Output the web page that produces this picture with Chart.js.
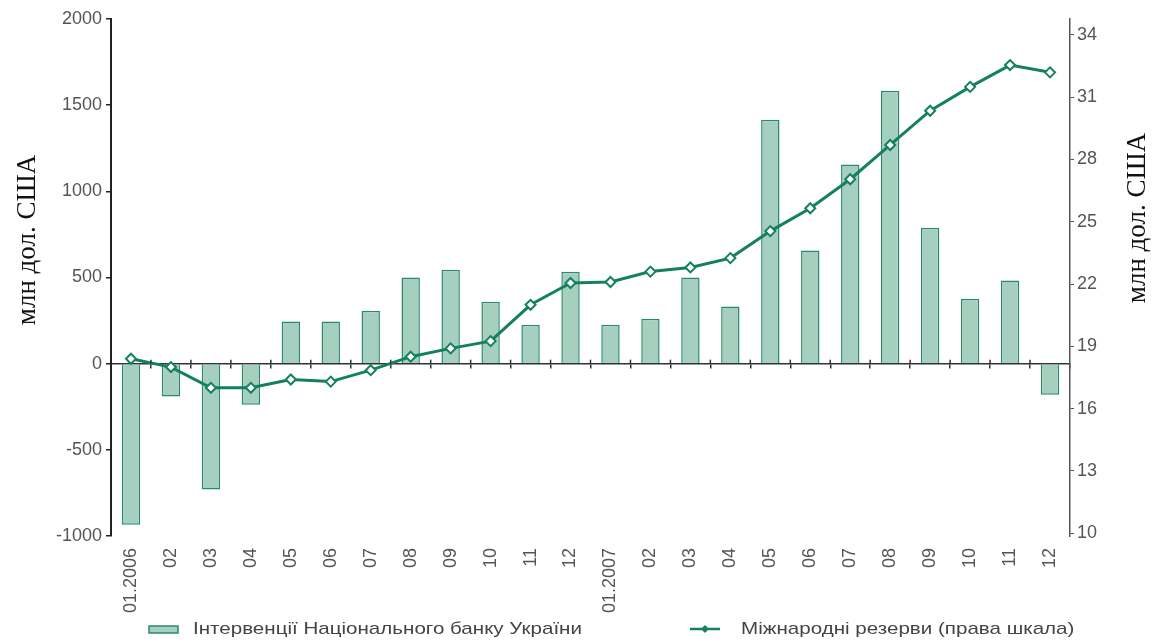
<!DOCTYPE html>
<html>
<head>
<meta charset="utf-8">
<script src="https://cdn.jsdelivr.net/npm/chart.js@4/dist/chart.umd.min.js"></script>
<style>
  html, body { margin: 0; padding: 0; background: #fff; }
  #wrap { width: 1154px; height: 642px; position: relative; }
</style>
</head>
<body>
<div id="wrap"><canvas id="reservesChart" width="1154" height="642"></canvas></div>
<script>
// months, 2006-2007
var months = ['01.2006', '02', '03', '04', '05', '06', '07', '08', '09', '10', '11', '12',
              '01.2007', '02', '03', '04', '05', '06', '07', '08', '09', '10', '11', '12']
// NBU interventions, mln USD (left scale)
var interventions = [-935, -190, -730, -238, 245, 245, 307, 500, 545, 360, 226, 534,
                     226, 261, 500, 331, 1416, 656, 1155, 1584, 789, 377, 482, -180]
// international reserves (right scale)
var reserves = [18.4, 18.0, 17.0, 17.0, 17.4, 17.3, 17.85, 18.5, 18.9, 19.25, 21.0, 22.05,
                22.1, 22.6, 22.8, 23.25, 24.55, 25.65, 27.05, 28.7, 30.35, 31.5, 32.55, 32.2]
var leftTicks = [-1000, -500, 0, 500, 1000, 1500, 2000]
var rightTicks = [10, 13, 16, 19, 22, 25, 28, 31, 34]

var axisTitle = 'млн дол. США'
var legendBar = 'Інтервенції Національного банку України'
var legendLine = 'Міжнародні резерви (права шкала)'

var lineColor = '#14805f'
var barFill = '#a5cfbf'
var barBorder = '#2b8b69'
var tickColor = '#555'
var tickFont = { family: '"Liberation Sans", Arial, sans-serif', size: 18 }

// titles and legend drawn by hand so they sit like the original
var extras = {
    id: 'extras',
    afterDraw: function(chart) {
        var ctx = chart.ctx
        var zeroY = chart.scales.y.getPixelForValue(0)

        // little cross ticks above the zero line too
        ctx.save()
        ctx.strokeStyle = '#333'
        ctx.lineWidth = 1.5
        var xs = chart.scales.x
        for (var i = 1; i < months.length; i++) {
            var px = (xs.getPixelForValue(i - 1) + xs.getPixelForValue(i)) / 2
            ctx.beginPath()
            ctx.moveTo(px, zeroY - 4)
            ctx.lineTo(px, zeroY)
            ctx.stroke()
        }
        ctx.restore()

        ctx.save()
        ctx.fillStyle = '#111'
        ctx.font = '27px "Liberation Serif", "DejaVu Serif", serif'
        ctx.textAlign = 'center'
        ctx.textBaseline = 'middle'
        ctx.translate(28, 240)
        ctx.rotate(-Math.PI / 2)
        ctx.fillText(axisTitle, 0, 0)
        ctx.restore()

        ctx.save()
        ctx.fillStyle = '#111'
        ctx.font = '27px "Liberation Serif", "DejaVu Serif", serif'
        ctx.textAlign = 'center'
        ctx.textBaseline = 'middle'
        ctx.translate(1138, 218)
        ctx.rotate(-Math.PI / 2)
        ctx.fillText(axisTitle, 0, 0)
        ctx.restore()

        // legend
        ctx.save()
        ctx.fillStyle = barFill
        ctx.strokeStyle = barBorder
        ctx.lineWidth = 1.5
        ctx.fillRect(149, 626, 29, 7)
        ctx.strokeRect(149, 626, 29, 7)

        ctx.strokeStyle = lineColor
        ctx.lineWidth = 2.5
        ctx.beginPath()
        ctx.moveTo(690, 629)
        ctx.lineTo(720, 629)
        ctx.stroke()
        ctx.fillStyle = lineColor
        ctx.beginPath()
        ctx.moveTo(705, 625)
        ctx.lineTo(709, 629)
        ctx.lineTo(705, 633)
        ctx.lineTo(701, 629)
        ctx.closePath()
        ctx.fill()

        ctx.font = '17px "Liberation Sans", Arial, sans-serif'
        ctx.fillStyle = '#444'
        ctx.textBaseline = 'middle'
        ctx.scale(1.21, 1)
        ctx.fillText(legendBar, 193 / 1.21, 629)
        ctx.fillText(legendLine, 741 / 1.21, 629)
        ctx.restore()
    }
}

var myChart = new Chart(document.getElementById('reservesChart'), {
    type: 'bar',
    data: {
        labels: months,
        datasets: [{
            type: 'line',
            label: legendLine,
            data: reserves,
            yAxisID: 'yRight',
            borderColor: lineColor,
            borderWidth: 3,
            pointStyle: 'rectRot',
            pointRadius: 5,
            pointBackgroundColor: '#fff',
            pointBorderColor: lineColor,
            pointBorderWidth: 2,
            tension: 0,
            order: 0
        }, {
            label: legendBar,
            data: interventions,
            yAxisID: 'y',
            backgroundColor: barFill,
            borderColor: barBorder,
            borderWidth: 1.5,
            barPercentage: 0.46,
            categoryPercentage: 1,
            order: 1
        }]
    },
    options: {
        responsive: false,
        animation: false,
        layout: { padding: { top: 19, left: 0, right: 0, bottom: 0 } },
        plugins: {
            legend: { display: false },
            tooltip: { enabled: false }
        },
        scales: {
            x: {
                position: 'bottom',
                offset: true,
                grid: { display: false },
                border: { display: false },
                ticks: {
                    color: tickColor,
                    font: tickFont,
                    minRotation: 90,
                    maxRotation: 90,
                    autoSkip: false,
                    padding: 4
                },
                afterFit: function(scale) { scale.height = 106 }
            },
            xZero: {
                type: 'category',
                position: { y: 0 },
                offset: true,
                grid: {
                    offset: true,
                    drawOnChartArea: false,
                    drawTicks: true,
                    tickLength: 4,
                    color: '#333',
                    lineWidth: 1.5
                },
                border: { display: true, color: '#333', width: 1.5 },
                ticks: { display: false }
            },
            y: {
                position: 'left',
                min: -1000,
                max: 2000,
                afterBuildTicks: function(scale) {
                    scale.ticks = leftTicks.map(function(v) { return { value: v } })
                },
                grid: { drawOnChartArea: false, tickLength: 5, color: '#222', lineWidth: 1.5 },
                border: { color: '#222', width: 2 },
                ticks: {
                    color: tickColor,
                    font: tickFont,
                    padding: 4,
                    callback: function(v) { return String(v) }
                },
                afterFit: function(scale) { scale.width = 111 }
            },
            yRight: {
                position: 'right',
                min: 9.86,
                max: 34.77,
                afterBuildTicks: function(scale) {
                    scale.ticks = rightTicks.map(function(v) { return { value: v } })
                },
                grid: { drawOnChartArea: false, tickLength: 4, color: '#555', lineWidth: 1 },
                border: { color: '#555', width: 1.5 },
                ticks: {
                    color: tickColor,
                    font: tickFont,
                    padding: 3,
                    callback: function(v) { return String(v) }
                },
                afterFit: function(scale) { scale.width = 84 }
            }
        }
    },
    plugins: [extras]
});
</script>
</body>
</html>
